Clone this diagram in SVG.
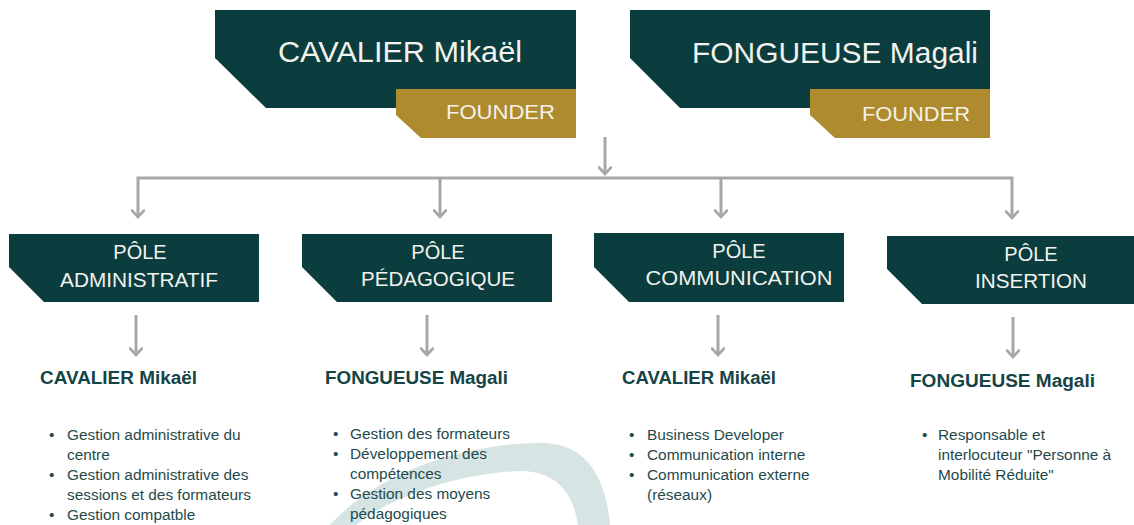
<svg xmlns="http://www.w3.org/2000/svg" width="1134" height="525" viewBox="0 0 1134 525">
<defs>
<style>
.dark{fill:#0b3d3f}
.gold{fill:#ad8b2e}
.top{font-family:"Liberation Sans",Arial,sans-serif;font-size:30px;fill:#f2f2ee}
.fnd{font-family:"Liberation Sans",Arial,sans-serif;font-size:21px;fill:#f5f2e8}
.pole{font-family:"Liberation Sans",Arial,sans-serif;font-size:20px;fill:#f2f2ee;text-anchor:middle}
.name{font-family:"Liberation Sans",Arial,sans-serif;font-size:18px;font-weight:bold;fill:#154446}
.bl{font-family:"Liberation Sans",Arial,sans-serif;font-size:15.4px;fill:#1f4a4b}
.conn{fill:none;stroke:#a7a7a7;stroke-width:3}
</style>
<marker id="ah" viewBox="0 0 10 14" refX="8" refY="7" markerWidth="10" markerHeight="14" markerUnits="userSpaceOnUse" orient="auto-start-reverse">
<polyline points="1.5,1 8,7 1.5,13" fill="none" stroke="#a7a7a7" stroke-width="2.6" stroke-linecap="round"/>
</marker>
</defs>
<rect width="1134" height="525" fill="#ffffff"/>
<path d="M330 525 C380 470 470 442 545 443 C590 445 606 482 610 525 L578 525 C573 492 556 472 522 471 C462 472 392 496 356 525 Z" fill="#d6e4e3"/>
<g id="founder1">
<path class="dark" d="M215 10 H576 V108 H266 L215 58 Z"/>
<path class="gold" d="M396 89 H576 V138 H421 L396 115 Z"/>
<text class="top" x="278" y="62" textLength="244" lengthAdjust="spacingAndGlyphs">CAVALIER Mikaël</text>
<text class="fnd" x="446" y="119" textLength="109" lengthAdjust="spacingAndGlyphs">FOUNDER</text>
</g>
<g id="founder2">
<path class="dark" d="M630 10 H990 V108 H680 L630 58 Z"/>
<path class="gold" d="M810 89 H990 V138 H835 L810 115 Z"/>
<text class="top" x="692" y="63" textLength="286" lengthAdjust="spacingAndGlyphs">FONGUEUSE Magali</text>
<text class="fnd" x="862" y="121" textLength="108" lengthAdjust="spacingAndGlyphs">FOUNDER</text>
</g>
<g id="connectors">
<line class="conn" x1="605" y1="137" x2="605" y2="174" marker-end="url(#ah)"/>
<polyline class="conn" points="138,217 138,178 1012,178 1012,218" marker-start="url(#ah)" marker-end="url(#ah)"/>
<line class="conn" x1="440" y1="178" x2="440" y2="217" marker-end="url(#ah)"/>
<line class="conn" x1="721" y1="178" x2="721" y2="217" marker-end="url(#ah)"/>
<line class="conn" x1="136" y1="315" x2="136" y2="355" marker-end="url(#ah)"/>
<line class="conn" x1="427" y1="315" x2="427" y2="355" marker-end="url(#ah)"/>
<line class="conn" x1="718" y1="315" x2="718" y2="355" marker-end="url(#ah)"/>
<line class="conn" x1="1013" y1="317" x2="1013" y2="357" marker-end="url(#ah)"/>
</g>
<g id="pole-admin">
<path class="dark" d="M9 234 H259 V302 H44 L9 267 Z"/>
<text class="pole" x="140" y="259">PÔLE</text>
<text class="pole" x="139" y="287" textLength="158" lengthAdjust="spacingAndGlyphs">ADMINISTRATIF</text>
</g>
<g id="pole-peda">
<path class="dark" d="M302 234 H552 V302 H337 L302 267 Z"/>
<text class="pole" x="438" y="259">PÔLE</text>
<text class="pole" x="438" y="286" textLength="154" lengthAdjust="spacingAndGlyphs">PÉDAGOGIQUE</text>
</g>
<g id="pole-comm">
<path class="dark" d="M594 233 H844 V302 H629 L594 267 Z"/>
<text class="pole" x="739" y="258">PÔLE</text>
<text class="pole" x="739" y="285" textLength="187" lengthAdjust="spacingAndGlyphs">COMMUNICATION</text>
</g>
<g id="pole-insertion">
<path class="dark" d="M887 236 H1137 V304 H922 L887 269 Z"/>
<text class="pole" x="1031" y="261">PÔLE</text>
<text class="pole" x="1031" y="288" textLength="112" lengthAdjust="spacingAndGlyphs">INSERTION</text>
</g>
<g id="col-admin">
<text class="name" x="40" y="384" textLength="157" lengthAdjust="spacingAndGlyphs">CAVALIER Mikaël</text>
<text class="bl" x="49" y="440">•</text><text class="bl" x="67" y="440">Gestion administrative du</text>
<text class="bl" x="67" y="460">centre</text>
<text class="bl" x="49" y="480">•</text><text class="bl" x="67" y="480">Gestion administrative des</text>
<text class="bl" x="67" y="500">sessions et des formateurs</text>
<text class="bl" x="49" y="520">•</text><text class="bl" x="67" y="520">Gestion compatble</text>
</g>
<g id="col-peda">
<text class="name" x="325" y="384" textLength="183" lengthAdjust="spacingAndGlyphs">FONGUEUSE Magali</text>
<text class="bl" x="333" y="439">•</text><text class="bl" x="350" y="439">Gestion des formateurs</text>
<text class="bl" x="333" y="459">•</text><text class="bl" x="350" y="459">Développement des</text>
<text class="bl" x="350" y="479">compétences</text>
<text class="bl" x="333" y="499">•</text><text class="bl" x="350" y="499">Gestion des moyens</text>
<text class="bl" x="350" y="519">pédagogiques</text>
</g>
<g id="col-comm">
<text class="name" x="622" y="384" textLength="154" lengthAdjust="spacingAndGlyphs">CAVALIER Mikaël</text>
<text class="bl" x="629" y="440">•</text><text class="bl" x="647" y="440">Business Developer</text>
<text class="bl" x="629" y="460">•</text><text class="bl" x="647" y="460">Communication interne</text>
<text class="bl" x="629" y="480">•</text><text class="bl" x="647" y="480">Communication externe</text>
<text class="bl" x="647" y="500">(réseaux)</text>
</g>
<g id="col-insertion">
<text class="name" x="910" y="387" textLength="185" lengthAdjust="spacingAndGlyphs">FONGUEUSE Magali</text>
<text class="bl" x="922" y="440">•</text><text class="bl" x="938" y="440">Responsable et</text>
<text class="bl" x="938" y="460">interlocuteur "Personne à</text>
<text class="bl" x="938" y="480">Mobilité Réduite"</text>
</g>
</svg>
